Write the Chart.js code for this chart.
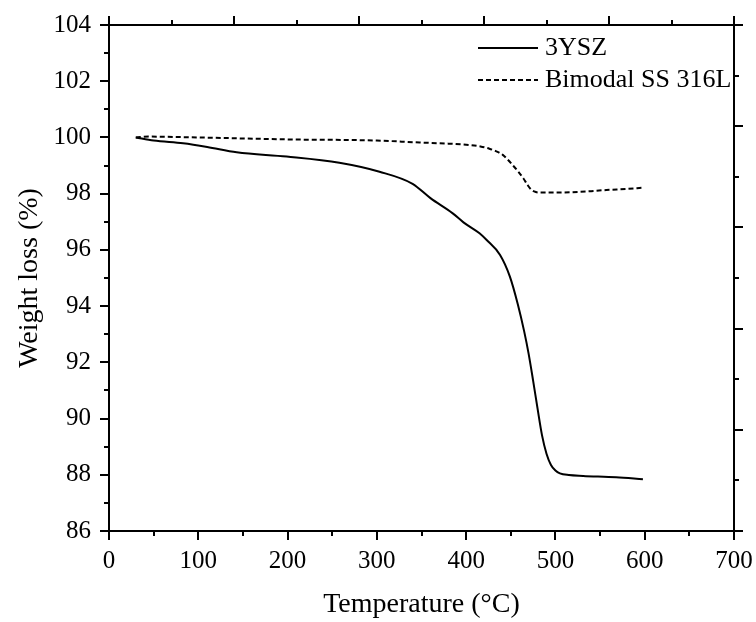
<!DOCTYPE html>
<html><head><meta charset="utf-8">
<script src="https://cdn.jsdelivr.net/npm/chart.js@4/dist/chart.umd.min.js"></script>
<style>html,body{margin:0;padding:0;background:#fff}</style>
</head><body>
<canvas id="c" width="756" height="622"></canvas>
<script>
const seriesNames = ['3YSZ', 'Bimodal SS 316L'];
const tempYSZ   = [30, 50, 83, 110, 143, 199, 258, 303, 340, 360, 385, 397, 415, 423, 438, 449, 458, 465, 470, 475, 480, 485, 490, 495, 500, 505, 515, 531, 568, 598];
const weightYSZ = [100.0, 99.89, 99.79, 99.66, 99.47, 99.32, 99.1, 98.78, 98.35, 97.84, 97.30, 96.98, 96.59, 96.35, 95.82, 95.05, 94.05, 93.1, 92.3, 91.35, 90.35, 89.4, 88.75, 88.35, 88.15, 88.05, 87.99, 87.96, 87.91, 87.84];
const tempSS    = [30, 45, 100, 200, 300, 348, 380, 404, 416, 426, 432, 437, 441, 446, 452, 458, 464, 469, 473, 478, 483, 500, 516, 540, 557, 580, 597];
const weightSS  = [100.0, 100.03, 100.0, 99.93, 99.89, 99.82, 99.78, 99.73, 99.68, 99.6, 99.53, 99.46, 99.38, 99.23, 99.02, 98.8, 98.55, 98.3, 98.14, 98.06, 98.04, 98.04, 98.05, 98.09, 98.13, 98.17, 98.21];
const xRange = [0, 700], xStep = 100;
const yRange = [86, 104], yStep = 2;
const xTitle = 'Temperature (°C)';
const yTitle = 'Weight loss (%)';

const FONT = "'Liberation Serif', 'Times New Roman', serif";
Chart.defaults.color = '#000';

const toPts = (xs, ys) => xs.map((x, i) => ({x: x, y: ys[i]}));

const framePlugin = {
  id: 'frame',
  afterDraw(chart) {
    const ca = chart.chartArea, ctx = chart.ctx;
    const xs = chart.scales.x, ys = chart.scales.y;
    ctx.save();
    ctx.strokeStyle = '#000';
    ctx.lineWidth = 2;
    ctx.strokeRect(ca.left, ca.top, ca.right - ca.left, ca.bottom - ca.top);
    const seg = (a, b, c, d) => { ctx.beginPath(); ctx.moveTo(a, b); ctx.lineTo(c, d); ctx.stroke(); };
    const MAJ = 9, MIN = 5;
    for (let v = xs.min, i = 0; v <= xs.max + 1e-9; v += xStep / 2, i++) {
      const p = Math.round(xs.getPixelForValue(v));
      seg(p, ca.bottom, p, ca.bottom + (i % 2 === 0 ? MAJ : MIN));
    }
    for (let v = ys.min, i = 0; v <= ys.max + 1e-9; v += yStep / 2, i++) {
      const p = Math.round(ys.getPixelForValue(v));
      seg(ca.left, p, ca.left - (i % 2 === 0 ? MAJ : MIN), p);
    }
    const w = ca.right - ca.left, h = ca.bottom - ca.top;
    for (let i = 0; i <= 10; i++) {
      const px = Math.round(ca.left + i * w / 10);
      seg(px, ca.top, px, ca.top - (i % 2 === 0 ? MAJ : MIN));
      const py = Math.round(ca.bottom - i * h / 10);
      seg(ca.right, py, ca.right + (i % 2 === 0 ? MAJ : MIN), py);
    }
    ctx.font = "26px " + FONT;
    ctx.fillStyle = '#000';
    ctx.textBaseline = 'middle';
    ctx.textAlign = 'left';
    const rows = [48, 80];
    chart.data.datasets.forEach((ds, k) => {
      const y = rows[k];
      ctx.save();
      ctx.lineWidth = ds.borderWidth;
      ctx.setLineDash(ds.borderDash || []);
      seg(478, y, 538, y);
      ctx.restore();
      ctx.fillText(ds.label, 545, y);
    });
    ctx.restore();
  }
};

new Chart(document.getElementById('c'), {
  type: 'scatter',
  data: {
    datasets: [
      { label: seriesNames[0], data: toPts(tempYSZ, weightYSZ), showLine: true, borderColor: '#000', borderWidth: 2, pointRadius: 0, cubicInterpolationMode: 'monotone', fill: false },
      { label: seriesNames[1], data: toPts(tempSS, weightSS), showLine: true, borderColor: '#000', borderWidth: 2, borderDash: [5, 3], pointRadius: 0, cubicInterpolationMode: 'monotone', fill: false }
    ]
  },
  options: {
    responsive: false,
    animation: false,
    devicePixelRatio: 1,
    layout: { padding: { top: 25, right: 22, left: 0, bottom: 0 } },
    plugins: { legend: { display: false }, tooltip: { enabled: false } },
    scales: {
      x: {
        type: 'linear', position: 'bottom', min: xRange[0], max: xRange[1],
        grid: { display: false }, border: { display: false },
        ticks: { stepSize: xStep, maxRotation: 0, autoSkip: false, padding: 7, color: '#000', font: { family: FONT, size: 25 } },
        title: { display: true, text: xTitle, color: '#000', font: { family: FONT, size: 28 }, padding: { top: 0, bottom: 1 } },
        afterFit(s) { s.height = 91; s.paddingLeft = 0; s.paddingRight = 0; }
      },
      y: {
        type: 'linear', position: 'left', min: yRange[0], max: yRange[1],
        grid: { display: false }, border: { display: false },
        ticks: { stepSize: yStep, padding: 10, color: '#000', font: { family: FONT, size: 25 } },
        title: { display: true, text: yTitle, color: '#000', font: { family: FONT, size: 28 }, padding: { top: 13, bottom: 0 } },
        afterFit(s) { s.width = 109; s.paddingTop = 0; s.paddingBottom = 0; }
      }
    }
  },
  plugins: [framePlugin]
});
</script>
</body></html>
